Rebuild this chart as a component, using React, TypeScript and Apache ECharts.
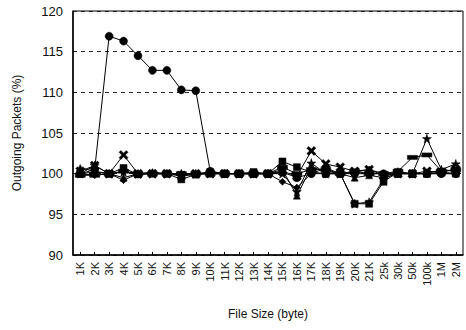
import React, { useEffect, useRef } from "react";
import * as echarts from "echarts";

const categories = ["1K","2K","3K","4K","5K","6K","7K","8K","9K","10K","11K","12K","13K","14K","15K","16K","17K","18K","19K","20K","21K","25k","30k","50k","100k","1M","2M"];
const yTicks = { min: 90, max: 120, interval: 5 };

const seriesCircle = [100, 100.5, 116.9, 116.3, 114.5, 112.7, 112.7, 110.3, 110.2, 100.3, 100, 100, 100, 100, 100.2, 99.5, 100, 100, 100, 100, 100, 100, 100, 100, 100, 100, 100];
const seriesCross = [100.3, 101, 100, 102.3, 100, 100, 100, 99.8, 100, 100, 100, 100, 100, 100, 100.3, 99.7, 102.8, 101.2, 100.8, 100.3, 100.5, 99.8, 100, 100, 100.3, 100.2, 100.5];
const seriesTriangle = [100.7, 100.3, 100, 99.5, 100, 100.2, 100, 99.7, 99.9, 100, 100, 100, 100, 100, 100.5, 97.3, 100.8, 100.3, 100, 99.5, 99.8, 99.5, 100, 100, 100, 100.5, 100.3];
const seriesSquare = [100, 100.2, 100, 100.7, 99.9, 100, 100, 99.3, 99.9, 100.2, 100, 100, 100.2, 100, 101.5, 100.8, 100.2, 100, 100, 96.3, 96.3, 99, 100.2, 100, 100, 100.2, 100];
const seriesStar = [100, 101, 100, 100.2, 100, 100, 100, 100, 100, 100.2, 100, 100, 100, 100, 100, 97.8, 101.3, 100, 100, 96.3, 96.5, 99.3, 100.2, 100, 104.3, 100.5, 101.2];
const seriesDash = [99.8, 99.8, 100, 100.3, 100, 100, 100, 100, 100, 100, 100, 100, 100, 100, 100.8, 100, 100.5, 100.5, 100, 100.3, 100, 100, 100.3, 102, 102.3, 100.3, 100.5];
const seriesDiamond = [100, 99.8, 100, 99.2, 100, 100, 100, 100, 100, 100, 100, 100, 100, 100, 99, 98.3, 100, 100.7, 100, 100.2, 100.5, 100, 100, 100, 100, 100, 100];

const X_PATH = "path://M0,2L2,0L5,3L8,0L10,2L7,5L10,8L8,10L5,7L2,10L0,8L3,5Z";
const STAR_PATH = "path://M5,0L6.2,3.8L10,3.8L7,6.2L8.1,10L5,7.6L1.9,10L3,6.2L0,3.8L3.8,3.8Z";

export default function App() {
  const ref = useRef<HTMLDivElement>(null);
  useEffect(() => {
    document.body.style.margin = "0";
    if (!ref.current) return;
    const chart = echarts.init(ref.current, undefined, { renderer: "svg" });
    const mk = (data: number[], symbol: string, size: any) => ({
      type: "line",
      data,
      symbol,
      symbolSize: size,
      showAllSymbol: true,
      lineStyle: { color: "#000", width: 1 },
      itemStyle: { color: "#000", borderColor: "#000", borderWidth: 0.5 },
    });
    chart.setOption({
      animation: false,
      backgroundColor: "#fff",
      grid: { left: 73, right: 3, top: 11, bottom: 75, show: true, borderColor: "#000", borderWidth: 1 },
      textStyle: { fontFamily: "Liberation Sans, Arial, sans-serif" },
      xAxis: {
        type: "category",
        data: categories,
        boundaryGap: true,
        name: "File Size (byte)",
        nameLocation: "middle",
        nameGap: 53,
        nameTextStyle: { fontSize: 12, color: "#111", fontFamily: "Liberation Sans, Arial, sans-serif" },
        axisLine: { lineStyle: { color: "#000", width: 1.5 } },
        axisTick: { show: true, inside: true, length: 3, alignWithLabel: true, lineStyle: { color: "#000" } },
        axisLabel: { rotate: 90, interval: 0, fontSize: 11, color: "#111", margin: 7, fontFamily: "Liberation Sans, Arial, sans-serif" },
        splitLine: { show: false },
      },
      yAxis: {
        type: "value",
        min: yTicks.min,
        max: yTicks.max,
        interval: yTicks.interval,
        name: "Outgoing Packets (%)",
        nameLocation: "middle",
        nameGap: 50,
        nameTextStyle: { fontSize: 12, color: "#111", fontFamily: "Liberation Sans, Arial, sans-serif" },
        axisLine: { show: true, lineStyle: { color: "#000", width: 1.5 } },
        axisTick: { show: false },
        axisLabel: { fontSize: 13, color: "#111", margin: 10, fontFamily: "Liberation Sans, Arial, sans-serif" },
        splitLine: { show: true, lineStyle: { color: "#222", type: [4, 4], width: 1 } },
      },
      series: [
        mk(seriesDiamond, "diamond", 7),
        mk(seriesDash, "rect", [10, 4]),
        mk(seriesTriangle, "triangle", 7),
        mk(seriesCross, X_PATH, 9),
        mk(seriesStar, STAR_PATH, 9),
        mk(seriesSquare, "rect", 7),
        mk(seriesCircle, "circle", 8),
      ],
    });
    return () => chart.dispose();
  }, []);
  return <div ref={ref} style={{ width: 466, height: 330 }} />;
}
